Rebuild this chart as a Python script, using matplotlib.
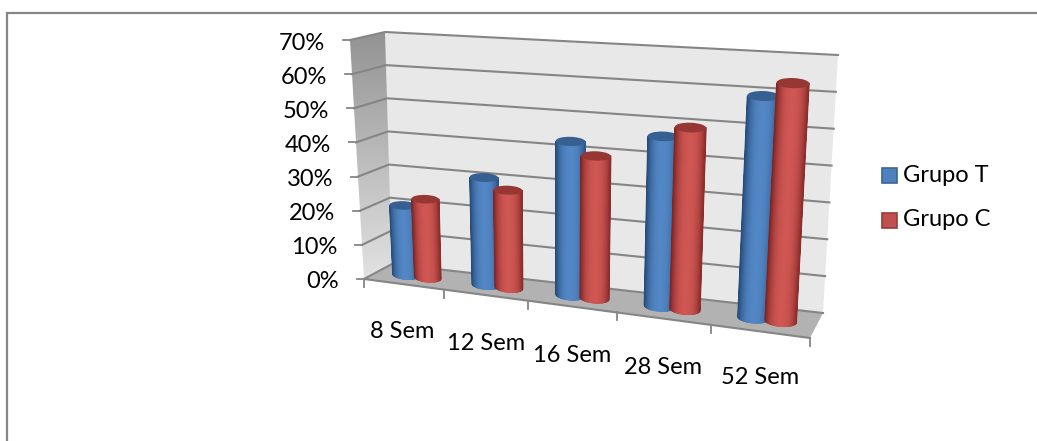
import numpy as np
import matplotlib
matplotlib.use("Agg")
import matplotlib.pyplot as plt
from matplotlib.collections import PolyCollection
from matplotlib.patches import Ellipse, Polygon, Rectangle

plt.rcParams['font.family'] = ['Lato', 'DejaVu Sans']

categories = ["8 Sem", "12 Sem", "16 Sem", "28 Sem", "52 Sem"]
grupo_t = [20.5, 31, 43.5, 47, 60]
grupo_c = [23, 28, 40, 50, 64]
y_ticks = [0, 10, 20, 30, 40, 50, 60, 70]
series_names = ["Grupo T", "Grupo C"]

# corners of the 3d box on the page: (depth 0 = front, 1 = back), bottom / top
FL0, FR0 = np.array([364., 279.]), np.array([810., 338.])
BL0, BR0 = np.array([392., 264.]), np.array([823., 313.])
FL1, FR1 = np.array([350., 40.]), np.array([826., 71.])
BL1, BR1 = np.array([385., 32.]), np.array([838., 55.])
YMAX = 70.
NCAT = len(categories)


def warp(u):
    # perspective: categories get wider to the right
    x = u / NCAT
    return x * (1 - 0.128) / (1 - 0.128 * x)


def project(u, d, v):
    w = warp(u)
    t = v / YMAX
    f0 = FL0 + (FR0 - FL0) * w
    b0 = BL0 + (BR0 - BL0) * w
    f1 = FL1 + (FR1 - FL1) * w
    b1 = BL1 + (BR1 - BL1) * w
    low = f0 + (b0 - f0) * d
    high = f1 + (b1 - f1) * d
    return low + (high - low) * t


def mix(a, b, t):
    return tuple((np.array(a) + (np.array(b) - np.array(a)) * t) / 255)


def cylinder(ax, u, value, light, dark, cap):
    base = project(u, 0.5, 0)
    top = project(u, 0.5, value)
    rb = 13.0 + 0.62 * u
    rt = rb + 0.5
    n = 60
    s = np.linspace(-1, 1, n + 1)
    polys, cols = [], []
    for a, b in zip(s[:-1], s[1:]):
        # the lower end follows the curve of the base ellipse
        ya = 0.34 * rb * np.sqrt(1 - a * a)
        yb = 0.34 * rb * np.sqrt(1 - b * b)
        polys.append([(base[0] + a * rb, base[1] + ya + a * rb * 0.08),
                      (base[0] + b * rb, base[1] + yb + b * rb * 0.08),
                      (top[0] + b * rt, top[1]),
                      (top[0] + a * rt, top[1])])
        m = (a + b) / 2
        cols.append(mix(light, dark, min(1, abs(m - 0.05) ** 2.6)))
    ax.add_collection(PolyCollection(polys, facecolors=cols, edgecolors=cols, linewidths=0.6, zorder=5))
    ax.add_patch(Ellipse(top, 2 * rt, 0.62 * rt, angle=2, facecolor=mix(cap, cap, 0), edgecolor='none', zorder=5))


fig = plt.figure(figsize=(10.37, 4.41), dpi=100)
ax = fig.add_axes([0, 0, 1, 1])

# chart frame, only top and left are visible
ax.plot([6.5, 6.5, 1037], [441, 13, 13], color='#868686', lw=1.6, solid_joinstyle='miter')

# back wall
ax.add_patch(Polygon([BL0, BR0, BR1, BL1], facecolor='#e8e8e8', edgecolor='none', zorder=1))

# side wall, dark at the top and fading out downwards
side = Polygon([FL0, BL0, BL1, FL1], transform=ax.transData, facecolor='none', edgecolor='none')
ax.add_patch(side)
shade = np.linspace(146, 226, 64).reshape(-1, 1)
im = ax.imshow(shade, cmap='gray', vmin=0, vmax=255, extent=(345, 395, 282, 30),
               aspect='auto', interpolation='bilinear', zorder=1)
im.set_clip_path(side)

# floor
ax.add_patch(Polygon([FL0, FR0, BR0, BL0], facecolor='#b2b2b2', edgecolor='none', zorder=1))

# gridlines over back and side wall, with value ticks
grid_c = '#858585'
for v in y_ticks:
    a = project(0, 0, v)
    b = project(0, 1, v)
    c = project(NCAT, 1, v)
    ax.plot([a[0], b[0], c[0]], [a[1], b[1], c[1]], color=grid_c, lw=1.5, zorder=2)
    ax.plot([a[0] - 7, a[0]], [a[1], a[1]], color=grid_c, lw=1.3, zorder=2)
    ax.text(a[0] - 25, a[1] + 3, "%d%%" % v, ha='right', va='center', fontsize=17, color='black')

# category ticks along the front edge of the floor
front_a, front_b = project(0, 0, 0), project(NCAT, 0, 0)
ax.plot([front_a[0], front_b[0]], [front_a[1], front_b[1]], color=grid_c, lw=1.5, zorder=3)
for k in range(NCAT + 1):
    p = project(k, 0, 0)
    ax.plot([p[0], p[0]], [p[1], p[1] + 8], color=grid_c, lw=1.3, zorder=2)

# cylinders, blue behind red in each group
for k in range(NCAT):
    cylinder(ax, k + 0.36, grupo_t[k], (82, 134, 196), (38, 76, 124), (54, 96, 146))
    cylinder(ax, k + 0.64, grupo_c[k], (206, 86, 83), (126, 38, 36), (150, 55, 52))

# category labels sit under the floor, stepping down to the right
label_xy = [(402.5, 332), (486, 343), (572.5, 355), (663.5, 367), (760, 378)]
for name, (x, y) in zip(categories, label_xy):
    ax.text(x, y, name, ha='center', va='center', fontsize=17, color='black')

# legend
swatches = [('#4f81bd', '#3a6595', 175), ('#c0504d', '#953c3a', 220)]
for name, (fc, ec, y) in zip(series_names, swatches):
    ax.add_patch(Rectangle((881.5, y - 7.5), 15, 15, facecolor=fc, edgecolor=ec, lw=1.2))
    ax.text(903, y, name, ha='left', va='center', fontsize=17, color='black')

ax.set_xlim(0, 1037)
ax.set_ylim(441, 0)
ax.axis('off')

fig.savefig("out.png", dpi=100)
